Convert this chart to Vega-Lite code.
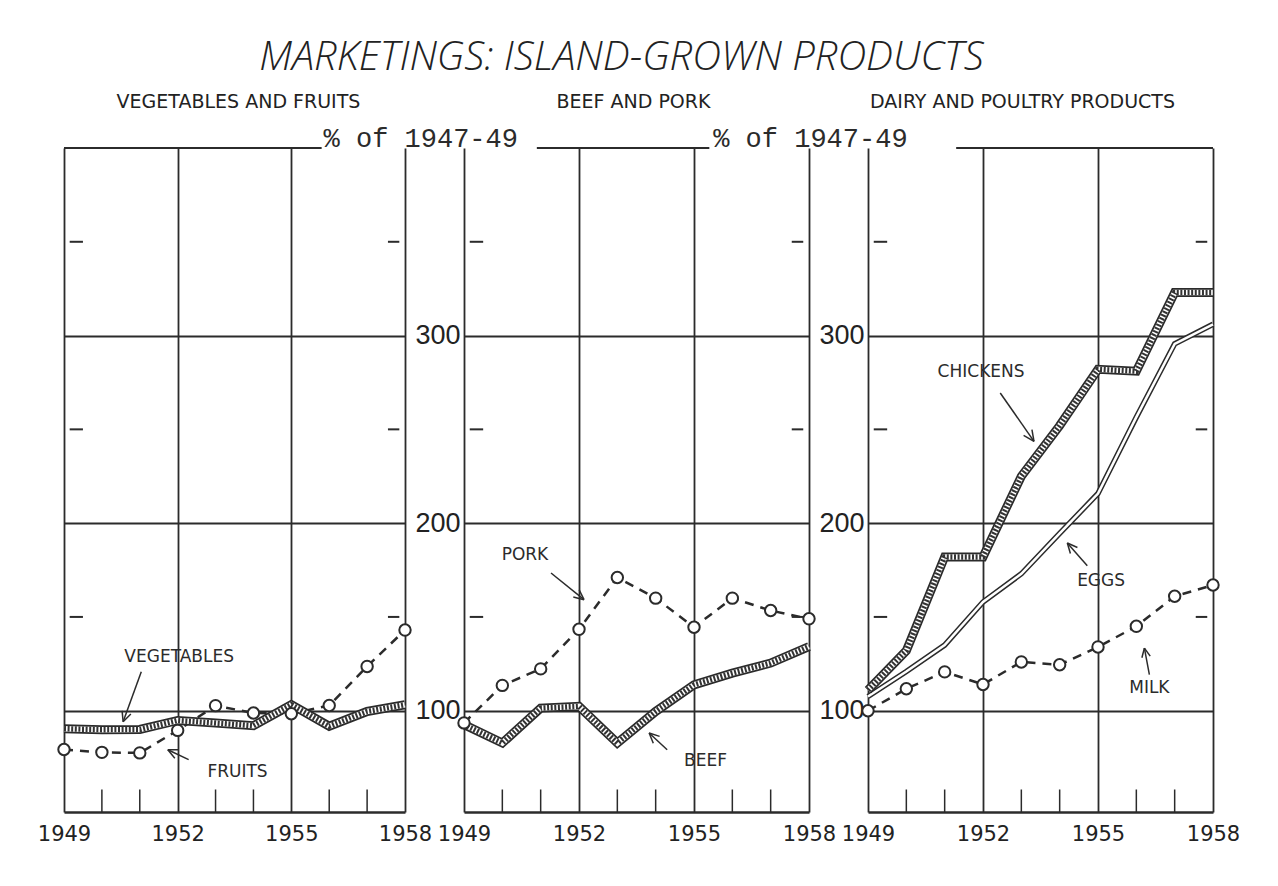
{
  "$schema": "https://vega.github.io/schema/vega-lite/v6.json",
  "background": "white",
  "padding": {"left": 37, "top": 38, "right": 20, "bottom": 20},
  "title": {"text": "MARKETINGS: ISLAND-GROWN PRODUCTS", "font": "Open Sans", "fontStyle": "italic", "fontWeight": 300, "fontSize": 40, "color": "#222222", "anchor": "middle", "dx": -17, "offset": 15},
  "datasets": {
    "series": [
      {"panel": 1, "series": "Vegetables", "year": 1949, "value": 90.4},
      {"panel": 1, "series": "Vegetables", "year": 1950, "value": 89.9},
      {"panel": 1, "series": "Vegetables", "year": 1951, "value": 90.0},
      {"panel": 1, "series": "Vegetables", "year": 1952, "value": 94.8},
      {"panel": 1, "series": "Vegetables", "year": 1953, "value": 93.4},
      {"panel": 1, "series": "Vegetables", "year": 1954, "value": 92.0},
      {"panel": 1, "series": "Vegetables", "year": 1955, "value": 103.2},
      {"panel": 1, "series": "Vegetables", "year": 1956, "value": 91.7},
      {"panel": 1, "series": "Vegetables", "year": 1957, "value": 99.6},
      {"panel": 1, "series": "Vegetables", "year": 1958, "value": 103.2},
      {"panel": 1, "series": "Fruits", "year": 1949, "value": 79.3},
      {"panel": 1, "series": "Fruits", "year": 1950, "value": 77.8},
      {"panel": 1, "series": "Fruits", "year": 1951, "value": 77.5},
      {"panel": 1, "series": "Fruits", "year": 1952, "value": 89.5},
      {"panel": 1, "series": "Fruits", "year": 1953, "value": 102.7},
      {"panel": 1, "series": "Fruits", "year": 1954, "value": 98.8},
      {"panel": 1, "series": "Fruits", "year": 1955, "value": 98.4},
      {"panel": 1, "series": "Fruits", "year": 1956, "value": 102.8},
      {"panel": 1, "series": "Fruits", "year": 1957, "value": 123.6},
      {"panel": 1, "series": "Fruits", "year": 1958, "value": 143.0},
      {"panel": 2, "series": "Beef", "year": 1949, "value": 92.6},
      {"panel": 2, "series": "Beef", "year": 1950, "value": 82.8},
      {"panel": 2, "series": "Beef", "year": 1951, "value": 101.4},
      {"panel": 2, "series": "Beef", "year": 1952, "value": 102.3},
      {"panel": 2, "series": "Beef", "year": 1953, "value": 82.8},
      {"panel": 2, "series": "Beef", "year": 1954, "value": 99.6},
      {"panel": 2, "series": "Beef", "year": 1955, "value": 113.8},
      {"panel": 2, "series": "Beef", "year": 1956, "value": 120.0},
      {"panel": 2, "series": "Beef", "year": 1957, "value": 125.4},
      {"panel": 2, "series": "Beef", "year": 1958, "value": 134.2},
      {"panel": 2, "series": "Pork", "year": 1949, "value": 93.5},
      {"panel": 2, "series": "Pork", "year": 1950, "value": 113.5},
      {"panel": 2, "series": "Pork", "year": 1951, "value": 122.3},
      {"panel": 2, "series": "Pork", "year": 1952, "value": 143.4},
      {"panel": 2, "series": "Pork", "year": 1953, "value": 171.0},
      {"panel": 2, "series": "Pork", "year": 1954, "value": 160.0},
      {"panel": 2, "series": "Pork", "year": 1955, "value": 144.5},
      {"panel": 2, "series": "Pork", "year": 1956, "value": 160.0},
      {"panel": 2, "series": "Pork", "year": 1957, "value": 153.4},
      {"panel": 2, "series": "Pork", "year": 1958, "value": 149.0},
      {"panel": 3, "series": "Chickens", "year": 1949, "value": 111.0},
      {"panel": 3, "series": "Chickens", "year": 1950, "value": 132.0},
      {"panel": 3, "series": "Chickens", "year": 1951, "value": 182.0},
      {"panel": 3, "series": "Chickens", "year": 1952, "value": 182.0},
      {"panel": 3, "series": "Chickens", "year": 1953, "value": 225.0},
      {"panel": 3, "series": "Chickens", "year": 1954, "value": 252.0},
      {"panel": 3, "series": "Chickens", "year": 1955, "value": 282.0},
      {"panel": 3, "series": "Chickens", "year": 1956, "value": 281.0},
      {"panel": 3, "series": "Chickens", "year": 1957, "value": 323.0},
      {"panel": 3, "series": "Chickens", "year": 1958, "value": 323.0},
      {"panel": 3, "series": "Eggs", "year": 1949, "value": 107.6},
      {"panel": 3, "series": "Eggs", "year": 1950, "value": 120.9},
      {"panel": 3, "series": "Eggs", "year": 1951, "value": 135.0},
      {"panel": 3, "series": "Eggs", "year": 1952, "value": 158.0},
      {"panel": 3, "series": "Eggs", "year": 1953, "value": 173.0},
      {"panel": 3, "series": "Eggs", "year": 1954, "value": 194.5},
      {"panel": 3, "series": "Eggs", "year": 1955, "value": 215.8},
      {"panel": 3, "series": "Eggs", "year": 1956, "value": 256.5},
      {"panel": 3, "series": "Eggs", "year": 1957, "value": 295.6},
      {"panel": 3, "series": "Eggs", "year": 1958, "value": 306.0},
      {"panel": 3, "series": "Milk", "year": 1949, "value": 100.0},
      {"panel": 3, "series": "Milk", "year": 1950, "value": 111.7},
      {"panel": 3, "series": "Milk", "year": 1951, "value": 120.7},
      {"panel": 3, "series": "Milk", "year": 1952, "value": 114.0},
      {"panel": 3, "series": "Milk", "year": 1953, "value": 126.0},
      {"panel": 3, "series": "Milk", "year": 1954, "value": 124.5},
      {"panel": 3, "series": "Milk", "year": 1955, "value": 134.0},
      {"panel": 3, "series": "Milk", "year": 1956, "value": 145.0},
      {"panel": 3, "series": "Milk", "year": 1957, "value": 161.0},
      {"panel": 3, "series": "Milk", "year": 1958, "value": 167.0}
    ],
    "notes": [
      {"panel": 1, "label": "VEGETABLES", "x": 1952.04, "y": 128.8},
      {"panel": 1, "label": "FRUITS", "x": 1953.58, "y": 67.5},
      {"panel": 2, "label": "PORK", "x": 1950.59, "y": 183.2},
      {"panel": 2, "label": "BEEF", "x": 1955.3, "y": 73.3},
      {"panel": 3, "label": "CHICKENS", "x": 1951.95, "y": 280.8},
      {"panel": 3, "label": "EGGS", "x": 1955.08, "y": 169.3},
      {"panel": 3, "label": "MILK", "x": 1956.34, "y": 112.3}
    ],
    "arrows": [
      {"panel": 1, "x": 1951.04, "y": 120.8, "x2": 1950.56, "y2": 94.1},
      {"panel": 1, "x": 1950.765, "y": 98.25, "x2": 1950.56, "y2": 94.1},
      {"panel": 1, "x": 1950.534, "y": 99.94, "x2": 1950.56, "y2": 94.1},
      {"panel": 1, "x": 1952.29, "y": 73.9, "x2": 1951.74, "y2": 79.2},
      {"panel": 1, "x": 1951.925, "y": 74.67, "x2": 1951.74, "y2": 79.2},
      {"panel": 1, "x": 1952.03, "y": 79.15, "x2": 1951.74, "y2": 79.2},
      {"panel": 2, "x": 1951.27, "y": 173.4, "x2": 1952.13, "y2": 159.2},
      {"panel": 2, "x": 1952.004, "y": 164.47, "x2": 1952.13, "y2": 159.2},
      {"panel": 2, "x": 1951.851, "y": 160.61, "x2": 1952.13, "y2": 159.2},
      {"panel": 2, "x": 1954.3, "y": 79.2, "x2": 1953.83, "y2": 88.1},
      {"panel": 2, "x": 1953.938, "y": 82.67, "x2": 1953.83, "y2": 88.1},
      {"panel": 2, "x": 1954.103, "y": 86.31, "x2": 1953.83, "y2": 88.1},
      {"panel": 3, "x": 1952.45, "y": 269.4, "x2": 1953.33, "y2": 243.6},
      {"panel": 3, "x": 1953.277, "y": 249.9, "x2": 1953.33, "y2": 243.6},
      {"panel": 3, "x": 1953.059, "y": 246.81, "x2": 1953.33, "y2": 243.6},
      {"panel": 3, "x": 1954.72, "y": 177.3, "x2": 1954.2, "y2": 189.4},
      {"panel": 3, "x": 1954.28, "y": 183.77, "x2": 1954.2, "y2": 189.4},
      {"panel": 3, "x": 1954.463, "y": 187.04, "x2": 1954.2, "y2": 189.4},
      {"panel": 3, "x": 1956.34, "y": 119.2, "x2": 1956.21, "y2": 133.4},
      {"panel": 3, "x": 1956.145, "y": 128.24, "x2": 1956.21, "y2": 133.4},
      {"panel": 3, "x": 1956.362, "y": 129.07, "x2": 1956.21, "y2": 133.4}
    ],
    "years": [
      {"year": 1950}, {"year": 1951}, {"year": 1953}, {"year": 1954}, {"year": 1956}, {"year": 1957}
    ],
    "minor": [
      {"v": 150}, {"v": 250}, {"v": 350}
    ]
  },
  "spacing": 59,
  "bounds": "flush",
  "hconcat": [
    {
      "width": 341,
      "height": 664,
      "title": {"text": "VEGETABLES AND FRUITS", "frame": "group", "anchor": "middle", "dx": 4},
      "layer": [
        {"data": {"name": "series"}, "transform": [{"filter": "datum.series === 'Fruits'"}],
          "mark": {"type": "line", "strokeWidth": 2.5, "strokeDash": [9, 7], "color": "#2b2b2b"},
          "encoding": {
            "x": {"field": "year", "type": "quantitative", "scale": {"domain": [1949, 1958], "nice": false, "zero": false},
              "axis": {"title": null, "values": [1949, 1952, 1955, 1958], "format": "d"}},
            "y": {"field": "value", "type": "quantitative", "scale": {"domain": [46, 400], "nice": false, "zero": false},
              "axis": {"title": null, "values": [100, 200, 300], "labels": false}}
          }},
        {"data": {"values": [{}]}, "mark": {"type": "rule", "strokeWidth": 2, "color": "#2b2b2b"},
          "encoding": {"x": {"datum": 1949, "type": "quantitative"}, "x2": {"datum": 1955.8}, "y": {"datum": 400, "type": "quantitative"}}},
        {"data": {"values": [{}]}, "mark": {"type": "text", "text": "% of 1947-49", "font": "Liberation Mono", "fontSize": 27, "align": "left", "baseline": "middle", "dy": -9, "color": "#2b2b2b"},
          "encoding": {"x": {"datum": 1955.85, "type": "quantitative"}, "y": {"datum": 400, "type": "quantitative"}}},
        {"data": {"name": "minor"}, "mark": {"type": "rule", "strokeWidth": 2, "color": "#2b2b2b"},
          "encoding": {"x": {"datum": 1949.15, "type": "quantitative"}, "x2": {"datum": 1949.5}, "y": {"field": "v", "type": "quantitative"}}},
        {"data": {"name": "minor"}, "mark": {"type": "rule", "strokeWidth": 2, "color": "#2b2b2b"},
          "encoding": {"x": {"datum": 1957.55, "type": "quantitative"}, "x2": {"datum": 1957.85}, "y": {"field": "v", "type": "quantitative"}}},
        {"data": {"name": "years"}, "mark": {"type": "rule", "strokeWidth": 1.5, "color": "#2b2b2b"},
          "encoding": {"x": {"field": "year", "type": "quantitative"}, "y": {"datum": 46, "type": "quantitative"}, "y2": {"datum": 58}}},
        {"data": {"name": "series"}, "transform": [{"filter": "datum.series === 'Vegetables'"}],
          "mark": {"type": "line", "strokeWidth": 9, "color": "#2b2b2b"},
          "encoding": {"x": {"field": "year", "type": "quantitative"}, "y": {"field": "value", "type": "quantitative"}}},
        {"data": {"name": "series"}, "transform": [{"filter": "datum.series === 'Vegetables'"}],
          "mark": {"type": "line", "strokeWidth": 5.5, "color": "#ffffff"},
          "encoding": {"x": {"field": "year", "type": "quantitative"}, "y": {"field": "value", "type": "quantitative"}}},
        {"data": {"name": "series"}, "transform": [{"filter": "datum.series === 'Vegetables'"}],
          "mark": {"type": "line", "strokeWidth": 5.5, "strokeDash": [2, 1.6], "color": "#333333"},
          "encoding": {"x": {"field": "year", "type": "quantitative"}, "y": {"field": "value", "type": "quantitative"}}},
        {"data": {"name": "series"}, "transform": [{"filter": "datum.series === 'Fruits'"}],
          "mark": {"type": "point", "shape": "circle", "size": 130, "filled": false, "fill": "white", "fillOpacity": 1, "strokeWidth": 2, "color": "#2b2b2b", "opacity": 1},
          "encoding": {"x": {"field": "year", "type": "quantitative"}, "y": {"field": "value", "type": "quantitative"}}},
        {"data": {"name": "notes"}, "transform": [{"filter": "datum.panel === 1"}],
          "mark": {"type": "text", "font": "DejaVu Sans", "fontSize": 17, "color": "#2b2b2b"},
          "encoding": {"x": {"field": "x", "type": "quantitative"}, "y": {"field": "y", "type": "quantitative"}, "text": {"field": "label"}}},
        {"data": {"name": "arrows"}, "transform": [{"filter": "datum.panel === 1"}],
          "mark": {"type": "rule", "strokeWidth": 1.5, "color": "#2b2b2b"},
          "encoding": {"x": {"field": "x", "type": "quantitative"}, "y": {"field": "y", "type": "quantitative"}, "x2": {"field": "x2"}, "y2": {"field": "y2"}}}
      ]
    },
    {
      "width": 345,
      "height": 664,
      "title": {"text": "BEEF AND PORK", "frame": "group", "anchor": "middle", "dx": -3},
      "layer": [
        {"data": {"name": "series"}, "transform": [{"filter": "datum.series === 'Pork'"}],
          "mark": {"type": "line", "strokeWidth": 2.5, "strokeDash": [9, 7], "color": "#2b2b2b"},
          "encoding": {
            "x": {"field": "year", "type": "quantitative", "scale": {"domain": [1949, 1958], "nice": false, "zero": false},
              "axis": {"title": null, "values": [1949, 1952, 1955, 1958], "format": "d"}},
            "y": {"field": "value", "type": "quantitative", "scale": {"domain": [46, 400], "nice": false, "zero": false},
              "axis": {"title": null, "values": [100, 200, 300]}}
          }},
        {"data": {"values": [{}]}, "mark": {"type": "rule", "strokeWidth": 2, "color": "#2b2b2b"},
          "encoding": {"x": {"datum": 1950.9, "type": "quantitative"}, "x2": {"datum": 1955.4}, "y": {"datum": 400, "type": "quantitative"}}},
        {"data": {"values": [{}]}, "mark": {"type": "text", "text": "% of 1947-49", "font": "Liberation Mono", "fontSize": 27, "align": "left", "baseline": "middle", "dy": -9, "color": "#2b2b2b"},
          "encoding": {"x": {"datum": 1955.5, "type": "quantitative"}, "y": {"datum": 400, "type": "quantitative"}}},
        {"data": {"name": "minor"}, "mark": {"type": "rule", "strokeWidth": 2, "color": "#2b2b2b"},
          "encoding": {"x": {"datum": 1949.15, "type": "quantitative"}, "x2": {"datum": 1949.5}, "y": {"field": "v", "type": "quantitative"}}},
        {"data": {"name": "minor"}, "mark": {"type": "rule", "strokeWidth": 2, "color": "#2b2b2b"},
          "encoding": {"x": {"datum": 1957.55, "type": "quantitative"}, "x2": {"datum": 1957.85}, "y": {"field": "v", "type": "quantitative"}}},
        {"data": {"name": "years"}, "mark": {"type": "rule", "strokeWidth": 1.5, "color": "#2b2b2b"},
          "encoding": {"x": {"field": "year", "type": "quantitative"}, "y": {"datum": 46, "type": "quantitative"}, "y2": {"datum": 58}}},
        {"data": {"name": "series"}, "transform": [{"filter": "datum.series === 'Beef'"}],
          "mark": {"type": "line", "strokeWidth": 9, "color": "#2b2b2b"},
          "encoding": {"x": {"field": "year", "type": "quantitative"}, "y": {"field": "value", "type": "quantitative"}}},
        {"data": {"name": "series"}, "transform": [{"filter": "datum.series === 'Beef'"}],
          "mark": {"type": "line", "strokeWidth": 5.5, "color": "#ffffff"},
          "encoding": {"x": {"field": "year", "type": "quantitative"}, "y": {"field": "value", "type": "quantitative"}}},
        {"data": {"name": "series"}, "transform": [{"filter": "datum.series === 'Beef'"}],
          "mark": {"type": "line", "strokeWidth": 5.5, "strokeDash": [2, 1.6], "color": "#333333"},
          "encoding": {"x": {"field": "year", "type": "quantitative"}, "y": {"field": "value", "type": "quantitative"}}},
        {"data": {"name": "series"}, "transform": [{"filter": "datum.series === 'Pork'"}],
          "mark": {"type": "point", "shape": "circle", "size": 130, "filled": false, "fill": "white", "fillOpacity": 1, "strokeWidth": 2, "color": "#2b2b2b", "opacity": 1},
          "encoding": {"x": {"field": "year", "type": "quantitative"}, "y": {"field": "value", "type": "quantitative"}}},
        {"data": {"name": "notes"}, "transform": [{"filter": "datum.panel === 2"}],
          "mark": {"type": "text", "font": "DejaVu Sans", "fontSize": 17, "color": "#2b2b2b"},
          "encoding": {"x": {"field": "x", "type": "quantitative"}, "y": {"field": "y", "type": "quantitative"}, "text": {"field": "label"}}},
        {"data": {"name": "arrows"}, "transform": [{"filter": "datum.panel === 2"}],
          "mark": {"type": "rule", "strokeWidth": 1.5, "color": "#2b2b2b"},
          "encoding": {"x": {"field": "x", "type": "quantitative"}, "y": {"field": "y", "type": "quantitative"}, "x2": {"field": "x2"}, "y2": {"field": "y2"}}}
      ]
    },
    {
      "width": 345,
      "height": 664,
      "title": {"text": "DAIRY AND POULTRY PRODUCTS", "frame": "group", "anchor": "middle", "dx": -18, "offset": 35},
      "layer": [
        {"data": {"name": "series"}, "transform": [{"filter": "datum.series === 'Milk'"}],
          "mark": {"type": "line", "strokeWidth": 2.5, "strokeDash": [9, 7], "color": "#2b2b2b"},
          "encoding": {
            "x": {"field": "year", "type": "quantitative", "scale": {"domain": [1949, 1958], "nice": false, "zero": false},
              "axis": {"title": null, "values": [1949, 1952, 1955, 1958], "format": "d"}},
            "y": {"field": "value", "type": "quantitative", "scale": {"domain": [46, 400], "nice": false, "zero": false},
              "axis": {"title": null, "values": [100, 200, 300]}}
          }},
        {"data": {"values": [{}]}, "mark": {"type": "rule", "strokeWidth": 2, "color": "#2b2b2b"},
          "encoding": {"x": {"datum": 1951.3, "type": "quantitative"}, "x2": {"datum": 1958}, "y": {"datum": 400, "type": "quantitative"}}},
        {"data": {"name": "minor"}, "mark": {"type": "rule", "strokeWidth": 2, "color": "#2b2b2b"},
          "encoding": {"x": {"datum": 1949.15, "type": "quantitative"}, "x2": {"datum": 1949.5}, "y": {"field": "v", "type": "quantitative"}}},
        {"data": {"name": "minor"}, "mark": {"type": "rule", "strokeWidth": 2, "color": "#2b2b2b"},
          "encoding": {"x": {"datum": 1957.55, "type": "quantitative"}, "x2": {"datum": 1957.85}, "y": {"field": "v", "type": "quantitative"}}},
        {"data": {"name": "years"}, "mark": {"type": "rule", "strokeWidth": 1.5, "color": "#2b2b2b"},
          "encoding": {"x": {"field": "year", "type": "quantitative"}, "y": {"datum": 46, "type": "quantitative"}, "y2": {"datum": 58}}},
        {"data": {"name": "series"}, "transform": [{"filter": "datum.series === 'Eggs'"}],
          "mark": {"type": "line", "strokeWidth": 5.5, "color": "#2b2b2b"},
          "encoding": {"x": {"field": "year", "type": "quantitative"}, "y": {"field": "value", "type": "quantitative"}}},
        {"data": {"name": "series"}, "transform": [{"filter": "datum.series === 'Eggs'"}],
          "mark": {"type": "line", "strokeWidth": 2.5, "color": "#ffffff"},
          "encoding": {"x": {"field": "year", "type": "quantitative"}, "y": {"field": "value", "type": "quantitative"}}},
        {"data": {"name": "series"}, "transform": [{"filter": "datum.series === 'Chickens'"}],
          "mark": {"type": "line", "strokeWidth": 9, "color": "#2b2b2b"},
          "encoding": {"x": {"field": "year", "type": "quantitative"}, "y": {"field": "value", "type": "quantitative"}}},
        {"data": {"name": "series"}, "transform": [{"filter": "datum.series === 'Chickens'"}],
          "mark": {"type": "line", "strokeWidth": 5.5, "color": "#ffffff"},
          "encoding": {"x": {"field": "year", "type": "quantitative"}, "y": {"field": "value", "type": "quantitative"}}},
        {"data": {"name": "series"}, "transform": [{"filter": "datum.series === 'Chickens'"}],
          "mark": {"type": "line", "strokeWidth": 5.5, "strokeDash": [2, 1.6], "color": "#333333"},
          "encoding": {"x": {"field": "year", "type": "quantitative"}, "y": {"field": "value", "type": "quantitative"}}},
        {"data": {"name": "series"}, "transform": [{"filter": "datum.series === 'Milk'"}],
          "mark": {"type": "point", "shape": "circle", "size": 130, "filled": false, "fill": "white", "fillOpacity": 1, "strokeWidth": 2, "color": "#2b2b2b", "opacity": 1},
          "encoding": {"x": {"field": "year", "type": "quantitative"}, "y": {"field": "value", "type": "quantitative"}}},
        {"data": {"name": "notes"}, "transform": [{"filter": "datum.panel === 3"}],
          "mark": {"type": "text", "font": "DejaVu Sans", "fontSize": 17, "color": "#2b2b2b"},
          "encoding": {"x": {"field": "x", "type": "quantitative"}, "y": {"field": "y", "type": "quantitative"}, "text": {"field": "label"}}},
        {"data": {"name": "arrows"}, "transform": [{"filter": "datum.panel === 3"}],
          "mark": {"type": "rule", "strokeWidth": 1.5, "color": "#2b2b2b"},
          "encoding": {"x": {"field": "x", "type": "quantitative"}, "y": {"field": "y", "type": "quantitative"}, "x2": {"field": "x2"}, "y2": {"field": "y2"}}}
      ]
    }
  ],
  "config": {
    "view": {"stroke": null},
    "title": {"font": "DejaVu Sans", "fontSize": 19, "fontWeight": "normal", "color": "#222222", "offset": 13},
    "axis": {
      "grid": true, "gridColor": "#2b2b2b", "gridWidth": 1.8, "gridOpacity": 1,
      "ticks": false, "domain": false,
      "labelFont": "DejaVu Sans", "labelColor": "#222222"
    },
    "axisX": {"domain": true, "domainColor": "#2b2b2b", "domainWidth": 2.5, "labelFontSize": 21, "labelPadding": 11, "labelFlush": false},
    "axisY": {"labelFont": "Liberation Sans", "labelFontSize": 27, "labelPadding": 4, "labelBaseline": "middle"}
  }
}
